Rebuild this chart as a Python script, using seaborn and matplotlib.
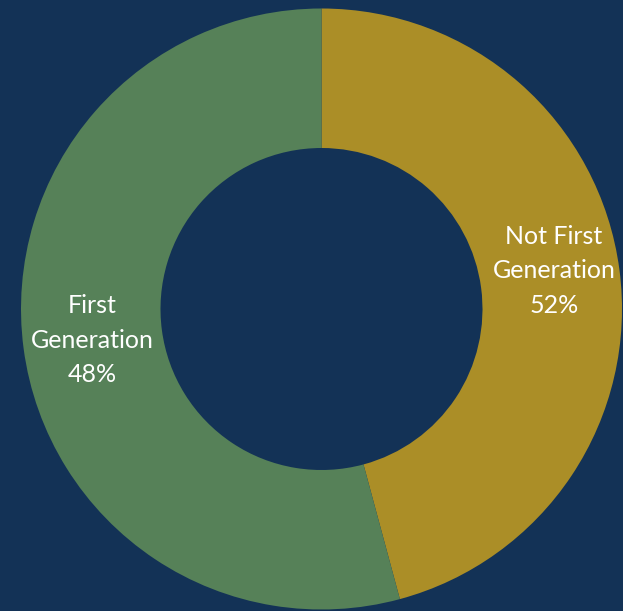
import matplotlib
matplotlib.use("Agg")
import matplotlib.pyplot as plt
import seaborn as sns

categories = ["Not First\nGeneration", "First\nGeneration"]
shares = [45.8, 54.2]        # wedge sizes as drawn in the picture
label_pcts = ["52%", "48%"]  # percentages printed on the chart
colors = ["#AB8E27", "#568158"]
bg = "#133256"

sns.set_theme(style="white")
plt.rcParams['font.family'] = ['Lato', 'DejaVu Sans']

W, H = 623, 611
cx, cy, R = 321.5, 309, 300.5
fig = plt.figure(figsize=(W / 100, H / 100), dpi=100, facecolor=bg)
ax = fig.add_axes([0, 0, 1, 1])
ax.set_facecolor(bg)

ax.pie(shares, colors=colors, startangle=90, counterclock=False, radius=1,
       wedgeprops=dict(width=1 - 161 / 300.5, linewidth=0))

ax.set_xlim(-cx / R, (W - cx) / R)
ax.set_ylim(-(H - cy) / R, cy / R)
ax.set_aspect('auto')
ax.axis('off')

label_px = [(554, 271), (92, 340)]
for cat, pct, (px, py) in zip(categories, label_pcts, label_px):
    ax.text((px - cx) / R, (cy - py) / R, f"{cat}\n{pct}", color="white",
            ha="center", va="center", fontsize=18, linespacing=1.6)

fig.savefig("out.png", dpi=100, facecolor=bg)
